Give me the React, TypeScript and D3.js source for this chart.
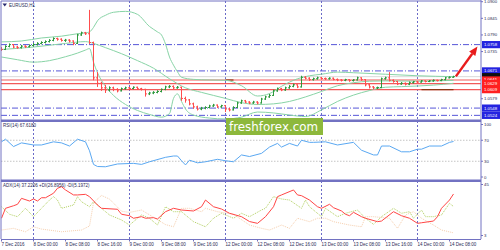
import React from 'react';
import * as d3 from 'd3';

// ---------- DATA ----------
const firstOpen = 1.0745;
const closes = [
  1.0742,1.0752,1.0758,1.0750,1.0748,1.0753,1.0751,1.0755,1.0758,1.0762,
  1.0765,1.0768,1.0772,1.0778,1.0776,1.0772,1.0773,1.0770,1.0762,1.0790,
  1.0797,1.0794,1.0765,1.0648,1.0630,1.0615,1.0608,1.0615,1.0610,1.0605,
  1.0612,1.0615,1.0613,1.0617,1.0612,1.0610,1.0595,1.0598,1.0600,1.0603,
  1.0610,1.0618,1.0620,1.0615,1.0617,1.0580,1.0575,1.0562,1.0552,1.0545,
  1.0548,1.0550,1.0555,1.0558,1.0552,1.0556,1.0545,1.0542,1.0550,1.0565,
  1.0572,1.0568,1.0565,1.0568,1.0565,1.0578,1.0585,1.0590,1.0605,1.0612,
  1.0608,1.0615,1.0620,1.0625,1.0618,1.0650,1.0647,1.0642,1.0645,1.0648,
  1.0646,1.0645,1.0647,1.0643,1.0641,1.0640,1.0642,1.0639,1.0641,1.0648,
  1.0642,1.0625,1.0618,1.0615,1.0616,1.0645,1.0648,1.0640,1.0636,1.0628,
  1.0630,1.0627,1.0632,1.0635,1.0634,1.0638,1.0636,1.0638,1.0640,1.0639,
  1.0642,1.0648,1.0650,1.0652,
];
const highs = [
  1.0750,1.0756,1.0762,1.0760,1.0754,1.0757,1.0756,1.0759,1.0763,1.0766,
  1.0769,1.0772,1.0776,1.0782,1.0781,1.0779,1.0777,1.0776,1.0772,1.0794,
  1.0801,1.0800,1.0873,1.0768,1.0667,1.0635,1.0625,1.0620,1.0619,1.0614,
  1.0616,1.0619,1.0618,1.0620,1.0619,1.0615,1.0612,1.0602,1.0604,1.0607,
  1.0613,1.0622,1.0624,1.0623,1.0621,1.0619,1.0586,1.0578,1.0566,1.0556,
  1.0552,1.0554,1.0559,1.0562,1.0560,1.0559,1.0557,1.0549,1.0554,1.0569,
  1.0576,1.0575,1.0571,1.0572,1.0571,1.0582,1.0589,1.0595,1.0609,1.0616,
  1.0615,1.0619,1.0624,1.0629,1.0627,1.0655,1.0654,1.0650,1.0649,1.0652,
  1.0651,1.0649,1.0650,1.0649,1.0646,1.0644,1.0645,1.0644,1.0644,1.0652,
  1.0650,1.0644,1.0628,1.0621,1.0619,1.0649,1.0652,1.0667,1.0643,1.0638,
  1.0634,1.0633,1.0636,1.0638,1.0638,1.0641,1.0640,1.0641,1.0643,1.0642,
  1.0645,1.0651,1.0653,1.0655,
];
const lows = [
  1.0737,1.0740,1.0749,1.0746,1.0744,1.0745,1.0747,1.0749,1.0752,1.0755,
  1.0759,1.0762,1.0765,1.0769,1.0771,1.0768,1.0767,1.0765,1.0756,1.0760,
  1.0787,1.0790,1.0760,1.0640,1.0618,1.0605,1.0598,1.0603,1.0604,1.0600,
  1.0603,1.0609,1.0609,1.0610,1.0608,1.0606,1.0586,1.0591,1.0594,1.0597,
  1.0600,1.0607,1.0614,1.0611,1.0612,1.0572,1.0566,1.0557,1.0546,1.0540,
  1.0541,1.0544,1.0547,1.0552,1.0548,1.0549,1.0535,1.0537,1.0540,1.0548,
  1.0562,1.0564,1.0561,1.0562,1.0560,1.0563,1.0575,1.0582,1.0588,1.0602,
  1.0604,1.0605,1.0612,1.0617,1.0614,1.0616,1.0643,1.0638,1.0639,1.0642,
  1.0642,1.0641,1.0642,1.0640,1.0637,1.0636,1.0637,1.0635,1.0636,1.0639,
  1.0638,1.0620,1.0613,1.0610,1.0611,1.0614,1.0642,1.0636,1.0632,1.0624,
  1.0625,1.0623,1.0624,1.0629,1.0631,1.0632,1.0633,1.0634,1.0635,1.0636,
  1.0637,1.0640,1.0646,1.0648,
];

// Bollinger bands (bar index -> price)
const bbUpIdx = [0,5,10,15,19,21,22,23,24,26,28,31,34,37,39,40,41,42,43,44,45,48,52,56,60,64,67,70,74,77,80,84,88,96,104,113];
const bbUp = [1.0767,1.0770,1.0780,1.0786,1.0794,1.0797,1.0800,1.0815,1.0837,1.0855,1.0865,1.0868,1.0858,1.0818,1.0800,1.0790,1.0760,1.0717,1.0690,1.0668,1.0650,1.0643,1.0641,1.0640,1.0622,1.0588,1.0596,1.0620,1.0645,1.0655,1.0660,1.0667,1.0665,1.0660,1.0655,1.0652];
const bbMidIdx = [0,8,16,21,23,26,30,34,38,42,46,50,56,60,64,68,72,76,80,84,88,92,96,104,113];
const bbMid = [1.0742,1.0750,1.0762,1.0768,1.0762,1.0748,1.0728,1.0705,1.0680,1.0645,1.0615,1.0600,1.0580,1.0566,1.0560,1.0562,1.0570,1.0585,1.0603,1.0622,1.0632,1.0637,1.0638,1.0637,1.0640];
const bbLowIdx = [0,4,8,12,16,19,21,22,23,24,26,28,31,34,37,40,42,43,44,45,46,48,52,56,60,64,68,72,76,80,84,88,92,96,100,104,108,113];
const bbLow = [1.0717,1.0708,1.0700,1.0705,1.0718,1.0730,1.0740,1.0745,1.0700,1.0665,1.0620,1.0590,1.0560,1.0540,1.0527,1.0518,1.0530,1.0580,1.0595,1.0570,1.0545,1.0525,1.0515,1.0512,1.0518,1.0535,1.0532,1.0525,1.0520,1.0542,1.0570,1.0591,1.0606,1.0617,1.0619,1.0621,1.0624,1.0630];

const rsiIdx = [0,1,3,5,8,10,13,15,17,19,21,22,23,24,26,29,33,35,37,41,43,44,45,46,47,49,51,54,56,58,60,62,65,67,69,70,72,74,75,77,78,81,84,88,90,93,94,95,97,100,102,104,105,107,110,112,113];
const rsiVal = [67,72,58,65,61,61,67,65,59,72,67,50,24,20,19.5,24.8,26,24,29,37.5,40,40,31,23,32,27,29,33.7,31,29,42,39,45,57,64,57,64,59,70,66,66,67,61,66,51,42,42,59,59,48,48,53,53,59,59,66,67.6];

const adxIdx = [0,1,3,4,5,7,8,9,10,11,13,14,15,16,18,19,21,22,24,25,29,30,32,33,35,36,38,39,41,43,45,48,50,51,53,55,57,60,62,64,66,68,69,70,73,74,75,77,79,80,82,83,85,86,87,88,90,91,94,95,98,100,102,104,105,108,109,110,112,113];
const adxVal = [17.2,25.4,27.5,28.7,33.6,31.4,33.1,31.4,34.1,34.1,37.8,41.9,43.2,40.5,36.4,36.4,36.9,35,28.1,25.4,24.6,20.5,19.3,17.2,18.5,17.2,17.7,16.6,22.6,25.4,24,23.2,26.7,32.2,26.7,24.8,21.3,18.5,14.5,13,18.5,26.7,35,36.4,40.5,36.4,35.8,32.2,26.7,25.4,28.7,25.9,23.2,20.5,19.3,22.1,18.5,17.2,14.4,14.9,22.6,19.3,17.2,13,13.5,14.9,18.5,25.4,32.2,37.2];
const pdiIdx = [0,2,4,6,8,10,12,13,14,15,18,19,20,22,23,25,27,30,32,34,35,37,39,41,43,45,48,51,53,55,58,60,62,65,66,68,70,72,75,76,77,80,81,84,86,89,91,93,95,98,100,102,103,105,106,108,110,112,113];
const pdiVal = [26.7,20.5,18.5,25.4,18.5,25.4,32.2,35,32.2,25.4,28.1,35,30.8,26.7,30.8,25.4,19.9,15.8,11.6,17.2,19.9,17.2,11.6,26.7,22.6,22.6,14.4,10.2,17.2,21.3,17.2,21.3,18.5,24,25.4,35,33.1,32.2,25.4,32.2,26.7,18.5,25.4,18.5,21.3,24,17.2,12.2,18.5,25.4,21.3,22.6,17.2,24,18.5,18.5,19.9,29.5,26.9];
const mdiIdx = [0,3,6,8,10,15,20,22,23,25,27,30,32,35,37,39,41,43,45,47,50,51,54,58,62,65,67,70,72,74,77,79,81,83,87,90,91,93,97,99,101,103,105,108,110,113];
const mdiVal = [7.5,8.9,6.1,10.2,8.3,6.1,7.5,10.8,30,36,33,23,22,24,20,16,12,10.2,25.4,25.4,22.6,25.4,22.6,20.5,11.6,8.9,7.5,11.6,8.9,17.2,14.4,17.2,17.2,14.4,11.6,10.2,18.5,18.5,17.2,8.9,19.9,22.6,17.2,11.6,7.5,5.2];

const dashLevels = [1.0758, 1.0671, 1.0548, 1.0524];
const redLevels = [1.0641, 1.0629, 1.0609];
const bidPrice = 1.0652;
const plainPriceTicks = [1.0900, 1.0845, 1.0790, 1.0735, 1.0579];
const rsiTicks = [100, 70, 30, 0];
const rsiLevels = [70, 30];
const adxTicks = [45, 3];
const timeLabels = ['7 Dec 2016','8 Dec 00:00','8 Dec 08:00','8 Dec 16:00','9 Dec 00:00','9 Dec 08:00','9 Dec 16:00','12 Dec 00:00','12 Dec 08:00','12 Dec 16:00','13 Dec 00:00','13 Dec 08:00','13 Dec 16:00','14 Dec 00:00','14 Dec 08:00'];
const timeLabelBars = [0,8,16,24,32,40,48,56,64,72,80,88,96,104,112];
const daySeparatorBars = [8,32,56,80,104];
const arrowFrom = { bar: 113.6, price: 1.0653 };
const arrowTo = { bar: 119, price: 1.0752 };

// ---------- LAYOUT ----------
const W = 500, H = 250;
const AXIS_X = 481;
const x = d3.scaleLinear().domain([0, 113]).range([1.5, 453.5]);
const yP = d3.scaleLinear().domain([1.05, 1.09]).range([122.6, 1.7]);
const yR = d3.scaleLinear().domain([0, 100]).range([177, 124.5]);
const yA = d3.scaleLinear().domain([3, 45]).range([235.5, 184.5]);
const fmt = d3.format('.4f');

const FONT = '"Liberation Sans", Arial, sans-serif';
const FRAME = '#7272c2';
const LABEL = '#2a2a55';

function path(idx: number[], vals: number[], ys: d3.ScaleLinear<number, number>, curve: d3.CurveFactory = d3.curveLinear) {
  return d3.line<number>().x((_, k) => x(idx[k])).y((v) => ys(v)).curve(curve)(vals) || '';
}

export default function App() {
  const opens = closes.map((_, i) => (i === 0 ? firstOpen : closes[i - 1]));
  const ax1 = x(arrowFrom.bar), ay1 = yP(arrowFrom.price);
  const ax2 = x(arrowTo.bar), ay2 = yP(arrowTo.price);
  const ang = Math.atan2(ay2 - ay1, ax2 - ax1);
  const hl = 9, hw = 3.8;
  const bx = ax2 - hl * Math.cos(ang), by = ay2 - hl * Math.sin(ang);
  const head = [
    [ax2, ay2],
    [bx + hw * Math.sin(ang), by - hw * Math.cos(ang)],
    [bx - hw * Math.sin(ang), by + hw * Math.cos(ang)],
  ].map((p) => p.join(',')).join(' ');

  return (
    <svg width={W} height={H} style={{ position: 'absolute', left: 0, top: 0, background: '#fff' }} fontFamily={FONT}>
      <defs>
        <clipPath id="cMain"><rect x={1} y={1} width={AXIS_X - 1} height={119} /></clipPath>
        <clipPath id="cRsi"><rect x={1} y={122} width={AXIS_X - 1} height={57} /></clipPath>
        <clipPath id="cAdx"><rect x={1} y={182} width={AXIS_X - 1} height={57} /></clipPath>
      </defs>
      <rect x={0} y={0} width={W} height={H} fill="#fff" />

      {/* vertical day separators */}
      {daySeparatorBars.map((b) => (
        <line key={'v' + b} x1={x(b)} x2={x(b)} y1={1} y2={239} stroke="#6a6ac8" strokeDasharray="2,2" strokeWidth={1} />
      ))}

      {/* ---- MAIN PANEL ---- */}
      <g clipPath="url(#cMain)">
        <line x1={1} x2={AXIS_X} y1={yP(bidPrice)} y2={yP(bidPrice)} stroke="#d9d9d9" strokeWidth={1} />
        {dashLevels.map((p) => (
          <line key={'d' + p} x1={1} x2={AXIS_X} y1={yP(p)} y2={yP(p)} stroke="#5656d8" strokeWidth={1} strokeDasharray="6,2,1,2" />
        ))}
        {redLevels.map((p) => (
          <line key={'r' + p} x1={1} x2={AXIS_X} y1={yP(p)} y2={yP(p)} stroke="#f25a5a" strokeWidth={1.1} />
        ))}
        <line x1={x(105)} x2={x(113)} y1={yP(1.0609)} y2={yP(1.0609)} stroke="#8a3a14" strokeWidth={1.2} />
        <line x1={x(56)} x2={x(58)} y1={yP(1.0641)} y2={yP(1.0641)} stroke="#8a3a14" strokeWidth={1.2} />
        <path d={path(bbUpIdx, bbUp, yP, d3.curveMonotoneX)} fill="none" stroke="#88d4a6" strokeWidth={1} />
        <path d={path(bbMidIdx, bbMid, yP, d3.curveMonotoneX)} fill="none" stroke="#88d4a6" strokeWidth={1} />
        <path d={path(bbLowIdx, bbLow, yP, d3.curveMonotoneX)} fill="none" stroke="#88d4a6" strokeWidth={1} />
        {closes.map((c, i) => {
          const o = opens[i];
          const col = c >= o ? '#2e9a3e' : '#ff4d4d';
          const xi = x(i);
          return (
            <g key={'b' + i} stroke={col} strokeWidth={1}>
              <line x1={xi} x2={xi} y1={yP(highs[i])} y2={yP(lows[i])} />
              <line x1={xi - 1.5} x2={xi} y1={yP(o)} y2={yP(o)} />
              <line x1={xi} x2={xi + 1.5} y1={yP(c)} y2={yP(c)} />
            </g>
          );
        })}
        <line x1={ax1} y1={ay1} x2={bx} y2={by} stroke="#e81c1c" strokeWidth={2.4} />
        <polygon points={head} fill="#e81c1c" />
      </g>

      {/* title */}
      <polygon points="2.5,3.5 7,3.5 4.75,6.5" fill="#2a2a70" />
      <text x={9} y={6.6} fontSize={4.5} fill={LABEL}>EURUSD,H1</text>

      {/* ---- RSI PANEL ---- */}
      <g clipPath="url(#cRsi)">
        {rsiLevels.map((v) => (
          <line key={'rl' + v} x1={1} x2={AXIS_X} y1={yR(v)} y2={yR(v)} stroke="#c4c4c4" strokeDasharray="1.5,1.5" strokeWidth={1} />
        ))}
        <path d={path(rsiIdx, rsiVal, yR)} fill="none" stroke="#5aa8f2" strokeWidth={1} />
      </g>
      <text x={3} y={127.4} fontSize={4.5} fill={LABEL}>RSI(14) 67.6180</text>

      {/* ---- ADX PANEL ---- */}
      <g clipPath="url(#cAdx)">
        <path d={path(mdiIdx, mdiVal, yA)} fill="none" stroke="#f6cfae" strokeWidth={1} strokeDasharray="1,1" />
        <path d={path(pdiIdx, pdiVal, yA)} fill="none" stroke="#b2d060" strokeWidth={1} strokeDasharray="1,1" />
        <path d={path(adxIdx, adxVal, yA)} fill="none" stroke="#ff4646" strokeWidth={1} />
      </g>
      <text x={3} y={187.4} fontSize={4.5} fill={LABEL}>ADX(14) 37.2206 +DI(26.8956) -DI(5.1972)</text>

      {/* frame */}
      <line x1={1} x2={AXIS_X} y1={1} y2={1} stroke={FRAME} strokeWidth={1} />
      <line x1={1} x2={1} y1={1} y2={239} stroke={FRAME} strokeWidth={1} />
      <line x1={AXIS_X} x2={AXIS_X} y1={0} y2={239} stroke={FRAME} strokeWidth={1} />
      <line x1={1} x2={AXIS_X} y1={239.5} y2={239.5} stroke={FRAME} strokeWidth={1} />
      <line x1={1} x2={AXIS_X} y1={120.8} y2={120.8} stroke={FRAME} strokeWidth={2.4} />
      <line x1={1} x2={AXIS_X} y1={180.8} y2={180.8} stroke={FRAME} strokeWidth={2.4} />

      {/* watermark */}
      <rect x={226} y={118} width={97} height={17} fill="#8db83c" />
      <text x={229} y={131} fontSize={12} fill="#fff" fontFamily='"DejaVu Sans", sans-serif' textLength={89} lengthAdjust="spacingAndGlyphs">freshforex.com</text>

      {/* ---- PRICE AXIS ---- */}
      {plainPriceTicks.map((p) => (
        <g key={'pt' + p}>
          <line x1={AXIS_X} x2={AXIS_X + 2} y1={yP(p)} y2={yP(p)} stroke={FRAME} />
          <text x={484} y={yP(p) + 1.5} fontSize={4.3} fill={LABEL}>{fmt(p)}</text>
        </g>
      ))}
      {dashLevels.map((p) => (
        <g key={'dl' + p}>
          <rect x={482} y={yP(p) - 3.6} width={18} height={7.2} fill="#2424e0" />
          <text x={484} y={yP(p) + 1.5} fontSize={4.3} fill="#fff">{fmt(p)}</text>
        </g>
      ))}
      <rect x={482} y={yP(bidPrice) - 3.6} width={18} height={7.2} fill="#111" />
      {redLevels.map((p) => (
        <g key={'rlb' + p}>
          <rect x={482} y={yP(p) - 3.6} width={18} height={7.2} fill="#ff2020" />
          <text x={484} y={yP(p) + 1.5} fontSize={4.3} fill="#fff">{fmt(p)}</text>
        </g>
      ))}

      {/* RSI axis */}
      {rsiTicks.map((v) => (
        <g key={'rt' + v}>
          <line x1={AXIS_X} x2={AXIS_X + 2} y1={yR(v)} y2={yR(v)} stroke={FRAME} />
          <text x={484} y={yR(v) + 1.5} fontSize={4.3} fill={LABEL}>{v}</text>
        </g>
      ))}
      {/* ADX axis */}
      {adxTicks.map((v) => (
        <g key={'at' + v}>
          <line x1={AXIS_X} x2={AXIS_X + 2} y1={yA(v)} y2={yA(v)} stroke={FRAME} />
          <text x={484} y={yA(v) + 1.5} fontSize={4.3} fill={LABEL}>{v}</text>
        </g>
      ))}

      {/* TIME AXIS */}
      {timeLabels.map((t, k) => (
        <g key={'tl' + k}>
          <line x1={x(timeLabelBars[k])} x2={x(timeLabelBars[k])} y1={239.5} y2={241.5} stroke={FRAME} />
          <text x={x(timeLabelBars[k]) + (k === 0 ? 0 : 0)} y={245.8} fontSize={4.5} fill={LABEL}>{t}</text>
        </g>
      ))}
    </svg>
  );
}
